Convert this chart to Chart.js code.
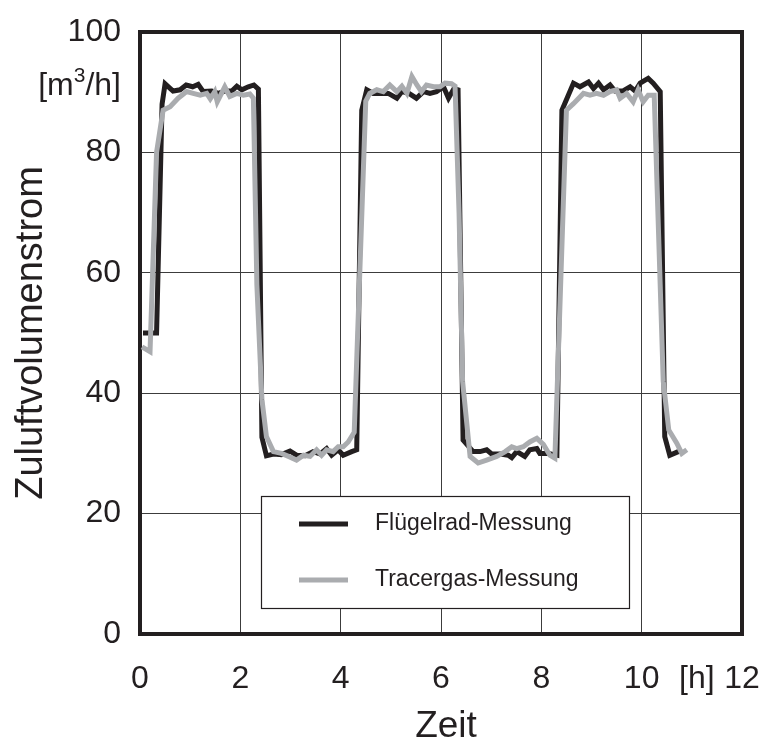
<!DOCTYPE html>
<html>
<head>
<meta charset="utf-8">
<script src="https://cdn.jsdelivr.net/npm/chart.js@4"></script>
<style>
  html, body { margin: 0; padding: 0; background: #fff; }
</style>
</head>
<body>
<canvas id="chart" width="767" height="747"></canvas>
<script>
// Flügelrad-Messung (schwarz)
const fluegelTime = [0.06, 0.33, 0.44, 0.5, 0.66, 0.8, 0.92, 1.05, 1.16, 1.26, 1.43, 1.56, 1.7, 1.83, 1.93, 2.03, 2.16, 2.27, 2.36,
  2.43, 2.52, 2.66, 2.82, 2.99, 3.12, 3.29, 3.45, 3.59, 3.72, 3.82, 3.95, 4.05, 4.22, 4.32,
  4.42, 4.52, 4.65, 4.8, 4.95, 5.12, 5.22, 5.36, 5.51, 5.65, 5.78, 5.91, 6.05, 6.15, 6.26, 6.34,
  6.44, 6.64, 6.78, 6.91, 7.01, 7.18, 7.34, 7.41, 7.51, 7.67, 7.77, 7.91, 7.97, 8.14, 8.31,
  8.41, 8.64, 8.77, 8.94, 9.04, 9.14, 9.24, 9.37, 9.47, 9.63, 9.77, 9.87, 9.97, 10.13, 10.23, 10.37,
  10.46, 10.56, 10.73, 10.8];
const fluegelValues = [50, 50, 88, 91.4, 90.2, 90.4, 91.2, 90.9, 91.3, 90.1, 90.2, 89.8, 90.2, 90.2, 91.0, 90.4, 90.9, 91.2, 90.5,
  32.7, 29.6, 29.9, 29.8, 30.4, 29.7, 29.6, 30.3, 29.9, 30.8, 29.7, 30.6, 29.7, 30.3, 30.6,
  87, 90.4, 89.8, 89.8, 89.8, 89.0, 90.1, 89.8, 89.0, 90.1, 89.8, 90.1, 90.9, 89.0, 90.6, 90.4,
  32.2, 30.3, 30.3, 30.6, 29.9, 29.9, 29.7, 29.3, 30.3, 29.5, 30.6, 30.8, 30.0, 30.0, 29.7,
  87, 91.5, 90.9, 91.7, 90.6, 91.5, 90.4, 91.2, 90.2, 90.2, 90.9, 90.2, 91.5, 92.3, 91.5, 90.1,
  32.8, 29.7, 30.3, 30.3];

// Tracergas-Messung (grau)
const tracerTime = [0.04, 0.2, 0.33, 0.46, 0.6, 0.76, 0.93, 1.06, 1.2, 1.33, 1.4, 1.49, 1.54, 1.69, 1.79, 1.93, 2.06, 2.19, 2.26,
  2.33, 2.43, 2.52, 2.66, 2.82, 2.96, 3.12, 3.26, 3.39, 3.52, 3.62, 3.72, 3.85, 3.95, 4.05, 4.15, 4.27,
  4.5, 4.58, 4.72, 4.85, 4.98, 5.12, 5.22, 5.32, 5.42, 5.52, 5.61, 5.71, 5.85, 5.98, 6.08, 6.21, 6.28,
  6.36, 6.43, 6.58, 6.74, 6.91, 7.11, 7.28, 7.41, 7.51, 7.64, 7.77, 7.91, 8.04, 8.17, 8.27,
  8.5, 8.64, 8.84, 8.97, 9.1, 9.24, 9.37, 9.5, 9.57, 9.7, 9.83, 9.93, 10.03, 10.13, 10.25,
  10.43, 10.54, 10.7, 10.8, 10.9];
const tracerValues = [47.7, 46.9, 80, 87, 87.6, 89, 90.1, 89.8, 89.5, 89.8, 88.9, 90.1, 88.4, 90.9, 89.3, 89.8, 89.5, 89.7, 89,
  58, 39, 32.8, 30.3, 30, 29.5, 28.9, 29.7, 29.5, 30.6, 29.7, 30.6, 30.3, 31.1, 31.1, 31.9, 33.5,
  88.5, 89.8, 90.4, 90.1, 91.2, 90.1, 91.0, 89.8, 92.6, 91.2, 90.1, 91.2, 90.9, 90.9, 91.5, 91.4, 91.0,
  70, 42, 29.5, 28.4, 28.9, 29.5, 30.3, 31.1, 30.8, 31.1, 31.9, 32.5, 31.5, 29.7, 29.2,
  87, 88.1, 89.8, 89.5, 89.8, 89.5, 90.1, 90.4, 89.0, 89.8, 88.4, 90.4, 88.4, 89.5, 89.5,
  42, 33.9, 31.7, 30, 30.6];

const xTicks = [0, 2, 4, 6, 8, 10, 12];
const yTicks = [0, 20, 40, 60, 80, 100];

const INK = '#231f20';
const GREY = '#aaacaf';
const FONT = '"Liberation Sans", Arial, sans-serif';

function toPoints(times, values) {
  return times.map((t, i) => ({ x: t, y: values[i] }));
}

// Rahmen, Einheiten, Achsentitel und Legende
const decorations = {
  id: 'decorations',
  beforeDatasetsDraw(chart) {
    const { ctx, chartArea: a } = chart;
    ctx.save();
    ctx.strokeStyle = INK;
    ctx.lineWidth = 4;
    ctx.strokeRect(a.left, a.top, a.right - a.left, a.bottom - a.top);
    ctx.restore();
  },
  afterDatasetsDraw(chart) {
    const { ctx, chartArea: a } = chart;
    ctx.save();
    ctx.fillStyle = INK;
    ctx.textBaseline = 'alphabetic';

    // Einheit y: [m³/h] mit hochgestellter 3
    const unitRight = a.left - 19, unitBase = 95;
    ctx.font = '32px ' + FONT;
    const wA = ctx.measureText('[m').width;
    const wC = ctx.measureText('/h]').width;
    ctx.font = '21px ' + FONT;
    const wB = ctx.measureText('3').width;
    let ux = unitRight - wA - wB - wC;
    ctx.textAlign = 'left';
    ctx.font = '32px ' + FONT;
    ctx.fillText('[m', ux, unitBase);
    ctx.font = '21px ' + FONT;
    ctx.fillText('3', ux + wA, unitBase - 13);
    ctx.font = '32px ' + FONT;
    ctx.fillText('/h]', ux + wA + wB, unitBase);

    // Einheit x
    ctx.textAlign = 'center';
    ctx.textBaseline = 'middle';
    const xs = chart.scales.x;
    ctx.fillText('[h]', xs.getPixelForValue(11.1), xs.top + 45);

    // Achsentitel
    ctx.textAlign = 'center';
    ctx.textBaseline = 'alphabetic';
    ctx.font = '37px ' + FONT;
    ctx.fillText('Zeit', 446, 737);
    ctx.font = '38px ' + FONT;
    ctx.save();
    ctx.translate(42, (a.top + a.bottom) / 2);
    ctx.rotate(-Math.PI / 2);
    ctx.fillText('Zuluftvolumenstrom', 0, 0);
    ctx.restore();

    // Legende
    const bx = 261, by = 496, bw = 368, bh = 112;
    ctx.fillStyle = '#fff';
    ctx.fillRect(bx, by, bw, bh);
    ctx.strokeStyle = INK;
    ctx.lineWidth = 1.2;
    ctx.strokeRect(bx + 0.5, by + 0.5, bw, bh);
    const rows = [28, 84];
    chart.data.datasets.forEach((ds, i) => {
      const yy = by + rows[i];
      ctx.strokeStyle = ds.borderColor;
      ctx.lineWidth = 5;
      ctx.beginPath();
      ctx.moveTo(bx + 38, yy);
      ctx.lineTo(bx + 87, yy);
      ctx.stroke();
      ctx.fillStyle = INK;
      ctx.font = '23px ' + FONT;
      ctx.textAlign = 'left';
      ctx.textBaseline = 'middle';
      ctx.fillText(ds.label, bx + 114, yy);
    });
    ctx.restore();
  }
};

new Chart(document.getElementById('chart'), {
  type: 'line',
  data: {
    datasets: [
      {
        label: 'Flügelrad-Messung',
        data: toPoints(fluegelTime, fluegelValues),
        borderColor: INK,
        borderWidth: 5,
        pointRadius: 0,
        tension: 0,
        order: 1
      },
      {
        label: 'Tracergas-Messung',
        data: toPoints(tracerTime, tracerValues),
        borderColor: GREY,
        borderWidth: 5,
        pointRadius: 0,
        tension: 0,
        order: 0
      }
    ]
  },
  options: {
    responsive: false,
    animation: false,
    layout: { padding: { top: 32, right: 25, left: 0, bottom: 0 } },
    plugins: { legend: { display: false }, tooltip: { enabled: false } },
    scales: {
      x: {
        type: 'linear',
        min: 0,
        max: 12,
        afterBuildTicks: s => { s.ticks = xTicks.map(v => ({ value: v })); },
        afterFit: s => { s.height = 113; s.paddingLeft = 0; s.paddingRight = 0; },
        ticks: { color: INK, font: { family: FONT, size: 32 }, padding: 26, maxRotation: 0 },
        grid: { color: '#3c3c3c', lineWidth: 1, drawTicks: false },
        border: { display: false }
      },
      y: {
        min: 0,
        max: 100,
        afterBuildTicks: s => { s.ticks = yTicks.map(v => ({ value: v })); },
        afterFit: s => { s.width = 140; s.paddingTop = 0; s.paddingBottom = 0; },
        ticks: { color: INK, font: { family: FONT, size: 32 }, padding: 19 },
        grid: { color: '#3c3c3c', lineWidth: 1, drawTicks: false },
        border: { display: false }
      }
    }
  },
  plugins: [decorations]
});
</script>
</body>
</html>
